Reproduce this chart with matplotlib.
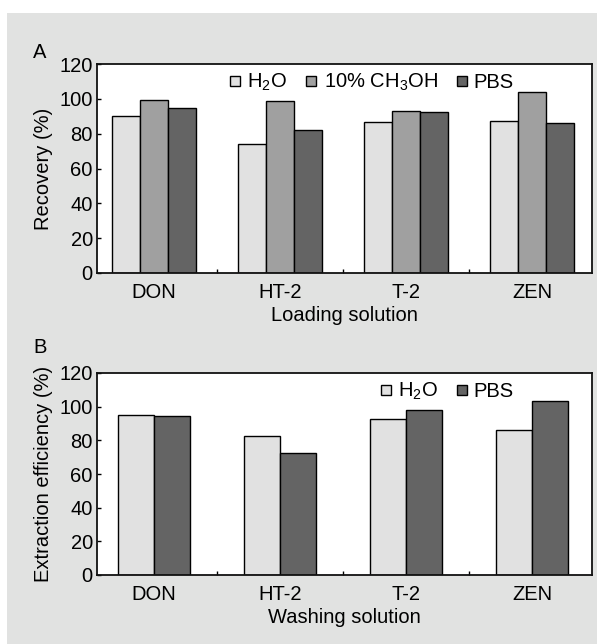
import matplotlib
matplotlib.use("Agg")
import matplotlib.pyplot as plt
import numpy as np
from matplotlib.lines import Line2D
import matplotlib.patches as mpatches

categories = ["DON", "HT-2", "T-2", "ZEN"]

# Panel A: loading solution
a_h2o = [90, 74, 86.5, 87.3]
a_meoh = [99.5, 98.5, 93.2, 103.7]
a_pbs = [95, 82, 92.6, 86.1]

# Panel B: washing solution
b_h2o = [95.1, 82.4, 92.7, 86.4]
b_pbs = [94.3, 72.4, 97.9, 103.6]

yticks = [0, 20, 40, 60, 80, 100, 120]

plt.rcParams['font.family'] = ['Liberation Sans', 'DejaVu Sans']
plt.rcParams['mathtext.default'] = 'regular'

c_light = '#e1e1e1'
c_mid = '#a0a0a0'
c_dark = '#646464'
bg = '#e1e2e1'

W, H = 597, 644
fig = plt.figure(figsize=(W / 100, H / 100), dpi=100)
fig.patch.set_facecolor('white')
fig.patches.append(mpatches.Rectangle((7 / W, 0), 1 - 7 / W, 1 - 13 / H,
                                      transform=fig.transFigure, facecolor=bg,
                                      edgecolor='none', zorder=-10))

def fx(x):
    return x / W

def fy(y):
    return 1 - y / H

axA = fig.add_axes([fx(97), fy(273), fx(592) - fx(97), fy(64) - fy(273)])
axB = fig.add_axes([fx(97), fy(575), fx(592) - fx(97), fy(373) - fy(575)])

fs = 14.5

def style(ax, xlabel, ylabel):
    ax.set_facecolor('white')
    ax.set_ylim(0, 120)
    ax.set_xlim(-0.452, 3.476)
    ax.set_yticks(yticks)
    ax.set_xticks([0, 1, 2, 3])
    ax.set_xticklabels(categories)
    ax.set_xticks([0.5, 1.5, 2.5], minor=True)
    ax.tick_params(axis='x', which='major', length=0, labelsize=fs, pad=7)
    ax.tick_params(axis='x', which='minor', direction='in', length=3, width=1)
    ax.tick_params(axis='y', direction='in', length=3, width=1, labelsize=fs, pad=3)
    for s in ax.spines.values():
        s.set_linewidth(1.3)
        s.set_color('#111111')
    ax.set_xlabel(xlabel, fontsize=fs, labelpad=3)
    ax.set_ylabel(ylabel, fontsize=fs, labelpad=5)

x = np.arange(len(categories))
wA = 0.222
axA.bar(x - wA, a_h2o, wA, color=c_light, edgecolor='black', linewidth=1)
axA.bar(x, a_meoh, wA, color=c_mid, edgecolor='black', linewidth=1)
axA.bar(x + wA, a_pbs, wA, color=c_dark, edgecolor='black', linewidth=1)
style(axA, 'Loading solution', 'Recovery (%)')

wB = 0.283
axB.bar(x - wB / 2, b_h2o, wB, color=c_light, edgecolor='black', linewidth=1)
axB.bar(x + wB / 2, b_pbs, wB, color=c_dark, edgecolor='black', linewidth=1)
style(axB, 'Washing solution', 'Extraction efficiency (%)')

def handle(c):
    return Line2D([], [], marker='s', linestyle='none', markersize=6.5,
                  markerfacecolor=c, markeredgecolor='black', markeredgewidth=1)

legA = axA.legend([handle(c_light), handle(c_mid), handle(c_dark)],
                  ['H$_2$O', '10% CH$_3$OH', 'PBS'], ncol=3, frameon=False,
                  fontsize=fs, handlelength=0.6, handletextpad=0.3,
                  columnspacing=0.9, loc='upper right',
                  bbox_to_anchor=(fx(516), fy(70)), bbox_transform=fig.transFigure,
                  borderaxespad=0, borderpad=0.1)
legB = axB.legend([handle(c_light), handle(c_dark)],
                  ['H$_2$O', 'PBS'], ncol=2, frameon=False,
                  fontsize=fs, handlelength=0.6, handletextpad=0.3,
                  columnspacing=0.9, loc='upper right',
                  bbox_to_anchor=(fx(516), fy(379)), bbox_transform=fig.transFigure,
                  borderaxespad=0, borderpad=0.1)

fig.text(fx(33), fy(53), 'A', fontsize=fs, va='center', ha='left')
fig.text(fx(33), fy(347), 'B', fontsize=fs, va='center', ha='left')

fig.savefig('out.png', dpi=100, facecolor=fig.get_facecolor())
